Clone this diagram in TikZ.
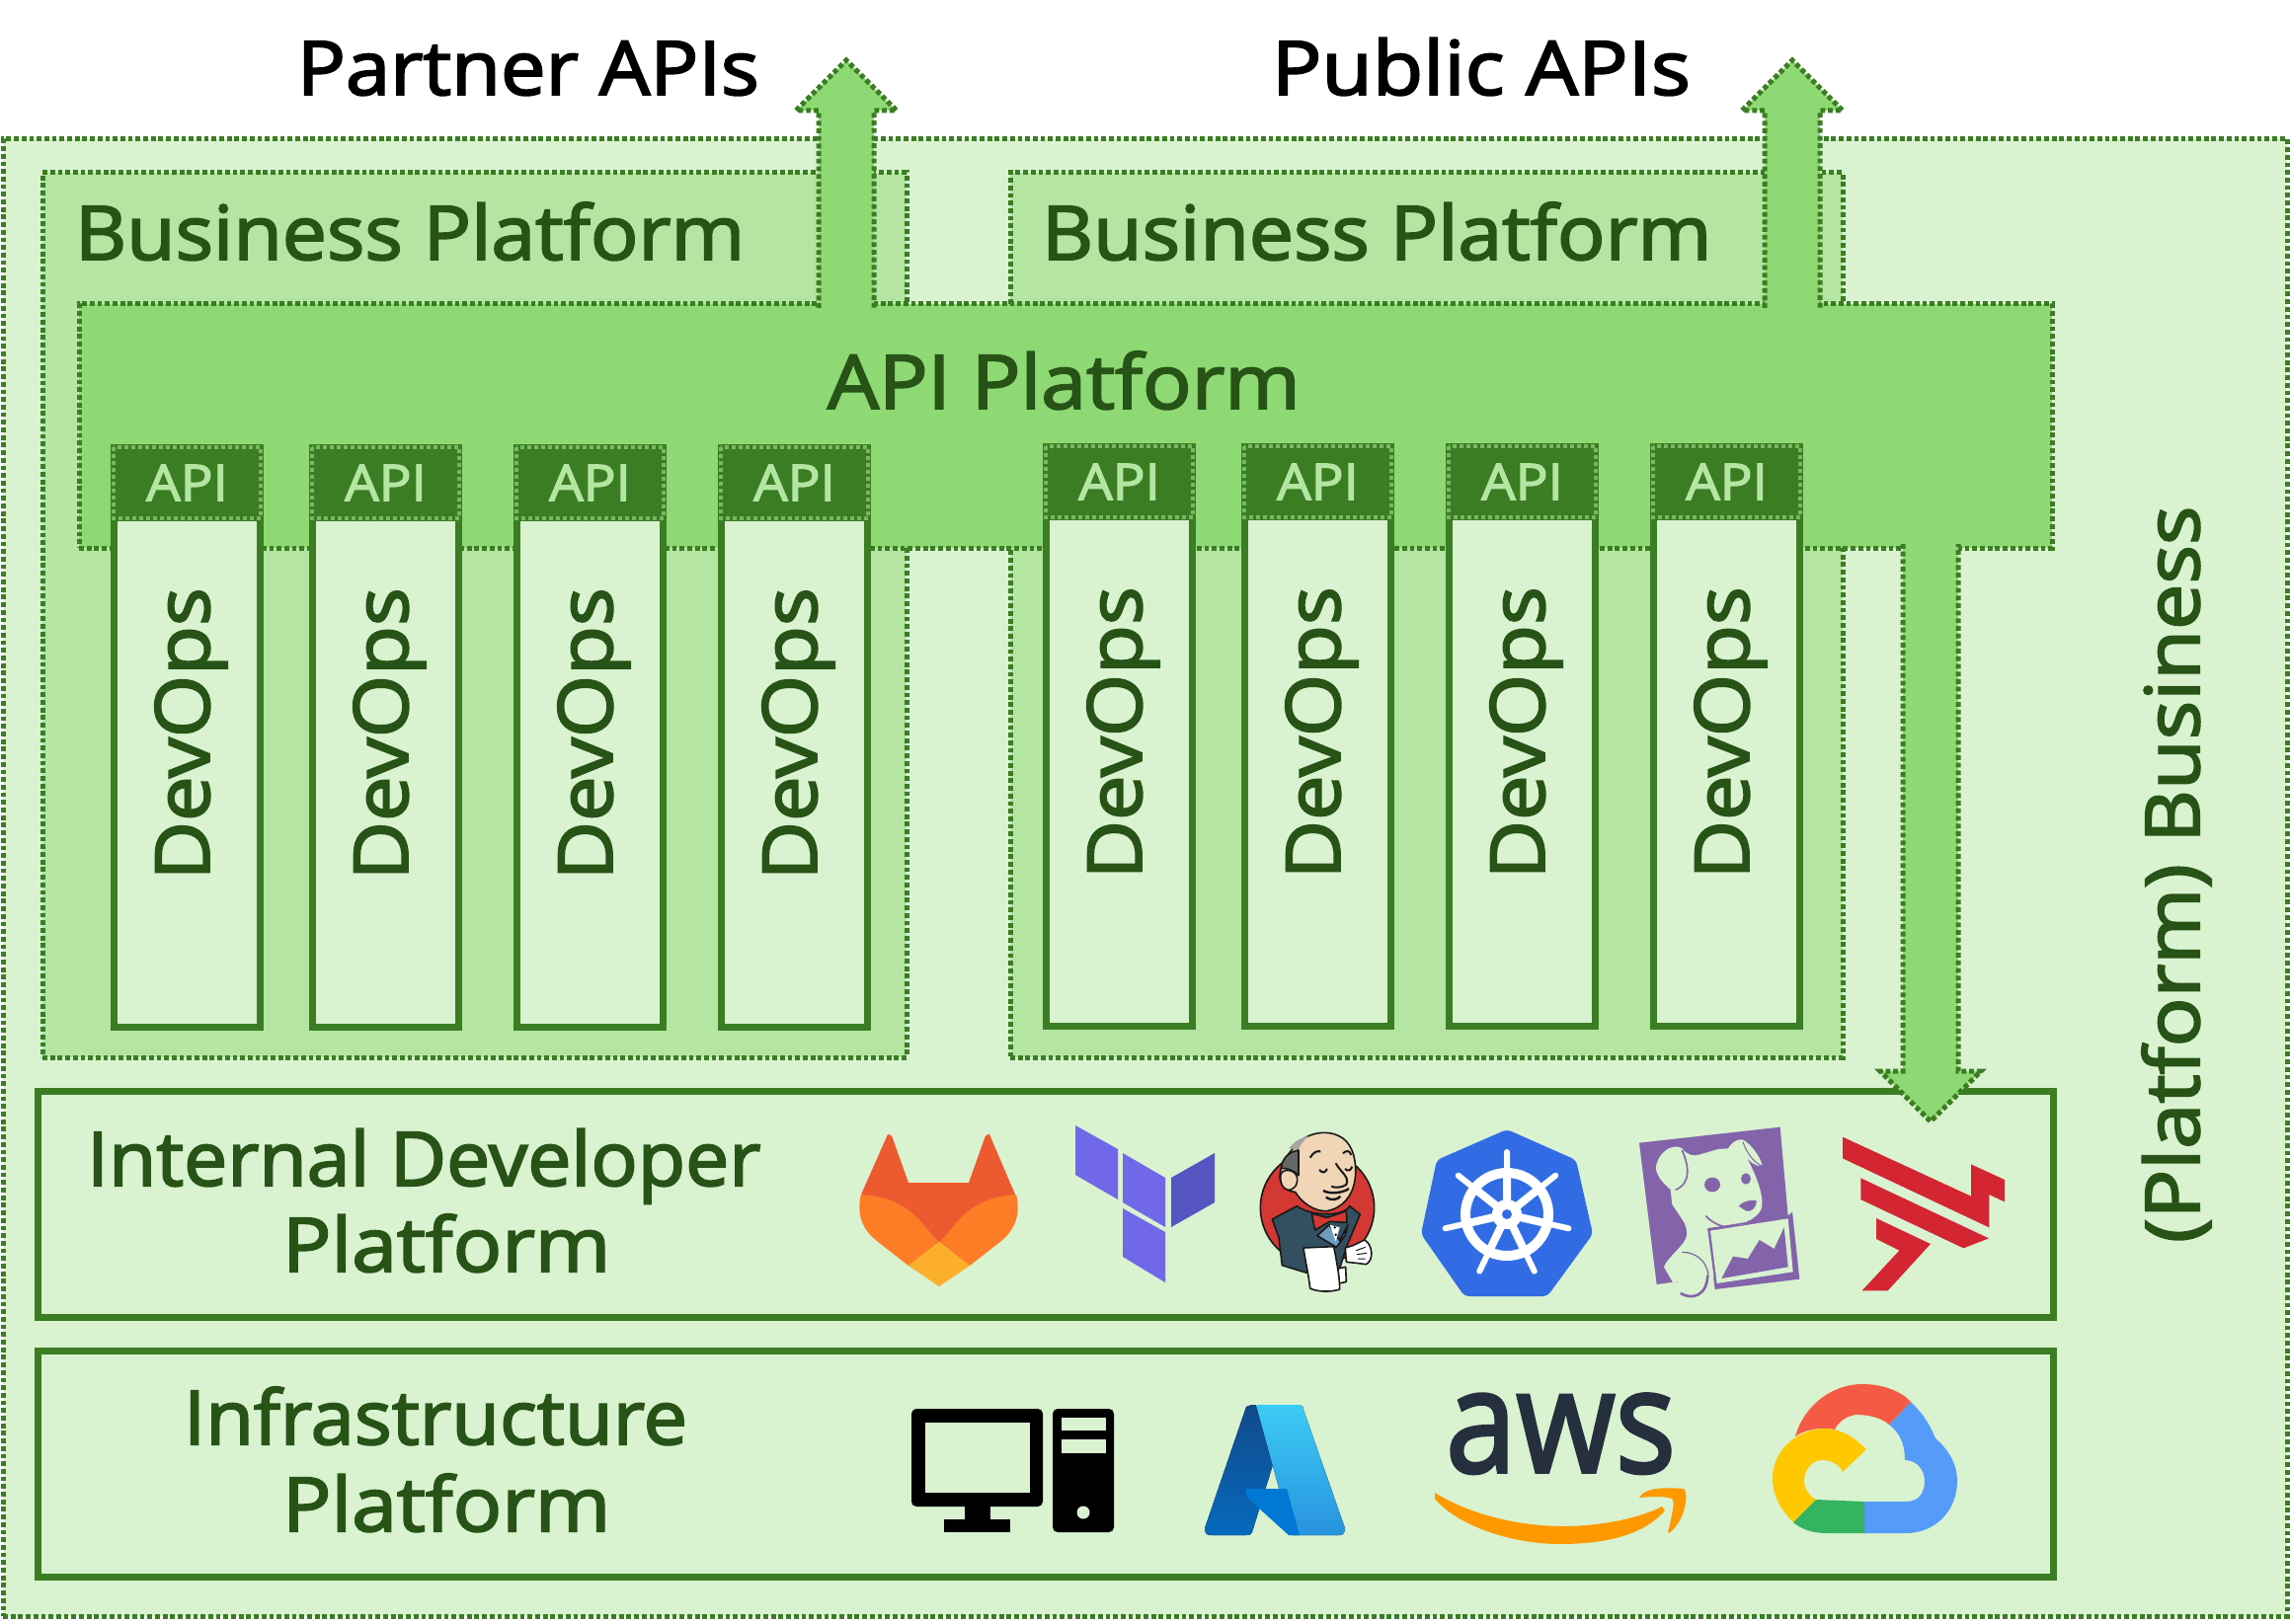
\documentclass[tikz,border=0pt]{standalone}
\usepackage{fontspec}
\usepackage{graphicx}
\setmainfont{Open Sans}[FakeStretch=1.07, BoldFont={Open Sans}, BoldFeatures={FakeBold=2.6}]
\usetikzlibrary{positioning}
\definecolor{dpLight}{HTML}{D9F2D0}
\definecolor{dpMid}{HTML}{B4E5A2}
\definecolor{dpApi}{HTML}{8ED973}
\definecolor{dpLine}{HTML}{3B7D23}
\definecolor{dpText}{HTML}{275317}
\definecolor{dpDots}{HTML}{78B860}
\definecolor{glRed}{HTML}{ED5A2F}
\definecolor{glOrange}{HTML}{FC7D26}
\definecolor{glYellow}{HTML}{FCAF2A}
\definecolor{tfLight}{HTML}{7068E8}
\definecolor{tfDark}{HTML}{5555C2}
\definecolor{jkRed}{HTML}{D33833}
\definecolor{jkSkin}{HTML}{F0D6B7}
\definecolor{jkCoat}{HTML}{335061}
\definecolor{jkBlue}{HTML}{6D9DBD}
\definecolor{k8Blue}{HTML}{326CE5}
\definecolor{ddPurple}{HTML}{8364AB}
\definecolor{trRed}{HTML}{D32632}
\definecolor{azDeep}{HTML}{114A8B}
\definecolor{azMid}{HTML}{0669BC}
\definecolor{azCore}{HTML}{0078D4}
\definecolor{azSky}{HTML}{3CCBF4}
\definecolor{azSea}{HTML}{2892DF}
\definecolor{awsNavy}{HTML}{252F3E}
\definecolor{awsOrange}{HTML}{FF9900}
\definecolor{gcRed}{HTML}{F55B44}
\definecolor{gcBlue}{HTML}{559BF9}
\definecolor{gcYellow}{HTML}{FFC800}
\definecolor{gcGreen}{HTML}{34B360}
\newcommand{\devopsBoxWidth}{148pt}
\newcommand{\devopsBoxHeight}{515.5pt}
\newcommand{\apiBoxHeight}{78pt}
\newcommand{\dpSize}[1]{\fontsize{#1}{#1}\selectfont\bfseries}
\newcommand{\dpWide}[2]{\scalebox{#1}[1]{#2}}
\newcommand{\devopsLabel}{\hspace*{8pt}\rotatebox{90}{\hspace*{78pt}DevOps}}
\newcommand{\blockArrow}[3]{%
  \draw [dp arrow] ([xshift=-28pt]#1) -- ([shift={(-28pt,#3)}]#2) --
    ([shift={(-51pt,#3)}]#2) -- (#2) -- ([shift={(51pt,#3)}]#2) --
    ([shift={(28pt,#3)}]#2) -- ([xshift=28pt]#1);}
\tikzset{
  dp base/.style={inner sep=0pt, outer sep=0pt},
  dp dots/.style={draw=dpLine, line width=5pt, dash pattern=on 4.8pt off 2.9pt},
  dp outer/.style={dp base, dp dots, rectangle, anchor=north west, fill=dpLight},
  dp business/.style={dp base, dp dots, rectangle, anchor=north west, fill=dpMid},
  dp platform/.style={dp base, dp dots, rectangle, anchor=north west, fill=dpApi},
  dp arrow/.style={dp dots, fill=dpApi},
  dp devops/.style={dp base, draw=dpLine, line width=7pt, rectangle, fill=dpLight,
    text=dpText, minimum width=\devopsBoxWidth, minimum height=\devopsBoxHeight,
    font=\dpSize{76}},
  dp api/.style={dp base, rectangle, fill=dpLine, text=dpMid,
    minimum width=155pt, minimum height=\apiBoxHeight, font=\dpSize{51},
    path picture={
      \draw [draw=dpDots, line width=4pt, dash pattern=on 4pt off 3pt]
        ([shift={(3pt,-3pt)}]path picture bounding box.north west) rectangle
        ([shift={(-3pt,3pt)}]path picture bounding box.south east);
    }},
  dp layer/.style={dp base, draw=dpLine, line width=7pt, rectangle, anchor=north west,
    fill=dpLight},
  dp title/.style={dp base, text=dpText, font=\dpSize{76}, anchor=base west},
  dp caption/.style={dp base, text=black, font=\dpSize{76}, anchor=base west},
  jk line/.style={draw=black!90, line width=1.6pt, line join=round},
}
\begin{document}
\begin{tikzpicture}[x=1pt, y=-1pt]
\useasboundingbox (0,0) rectangle (2319,1645);
\node (outer) [dp outer, minimum width=2313pt, minimum height=1496pt] at (3,141) {};
\node (businessA) [dp business, minimum width=875pt, minimum height=896pt] at (43,175) {};
\node (businessB) [dp business, minimum width=843pt, minimum height=896pt] at (1023,175) {};
\node (apiPlatform) [dp platform, minimum width=1998pt, minimum height=247pt] at (80,308) {};

\node (partnerLabel) [dp caption] at (301,96) {Partner APIs};
\node (publicLabel)  [dp caption] at (1288,96) {\dpWide{1.03}{Public APIs}};
\node (businessLabelA) [dp title] at (76,263) {\dpWide{0.99}{Business Platform}};
\node (businessLabelB) [dp title] at (1055,263) {\dpWide{0.99}{Business Platform}};
\node (platformLabel) [dp title] at (838,414) {\dpWide{1.012}{API Platform}};

\coordinate (partnerTip) at (857,61);
\coordinate (publicTip) at (1815,61);
\coordinate (internalTip) at (1955,1136);
\coordinate (partnerBase) at ([yshift=-4pt]partnerTip |- apiPlatform.north);
\coordinate (publicBase) at ([yshift=-4pt]publicTip |- apiPlatform.north);
\coordinate (internalBase) at ([yshift=4pt]internalTip |- apiPlatform.south);

\node (internal) [dp layer, minimum width=2041pt, minimum height=229pt] at (38,1105) {};
\node (infra) [dp layer, minimum width=2041pt, minimum height=229pt] at (38,1368) {};
\node (internalLabelA) [dp title] at (88,1201) {\dpWide{0.968}{Internal Developer}};
\node (internalLabelB) [dp title] at (286,1288) {\dpWide{1.01}{Platform}};
\node (infraLabelA) [dp title] at (186,1463) {\dpWide{0.977}{Infrastructure}};
\node (infraLabelB) [dp title] at (286,1551) {\dpWide{1.01}{Platform}};
\node (businessSide) [dp title, rotate=90] at (2227,1259) {\dpWide{1.018}{(Platform) Business}};

\blockArrow{partnerBase}{partnerTip}{-51pt}
\blockArrow{publicBase}{publicTip}{-51pt}
\blockArrow{internalBase}{internalTip}{51pt}

\node (devopsA) [dp devops, anchor=north west] at (115.5,524.5) {\devopsLabel};
\node (devopsB) [dp devops, right=53pt of devopsA] {\devopsLabel};
\node (devopsC) [dp devops, right=59pt of devopsB] {\devopsLabel};
\node (devopsD) [dp devops, right=59pt of devopsC] {\devopsLabel};
\node (devopsE) [dp devops, anchor=north west] at (1059.5,523.5) {\devopsLabel};
\node (devopsF) [dp devops, right=53pt of devopsE] {\devopsLabel};
\node (devopsG) [dp devops, right=59pt of devopsF] {\devopsLabel};
\node (devopsH) [dp devops, right=59pt of devopsG] {\devopsLabel};
\node (apiA) [dp api, above=-3.5pt of devopsA] {API};
\node (apiB) [dp api, above=-3.5pt of devopsB] {API};
\node (apiC) [dp api, above=-3.5pt of devopsC] {API};
\node (apiD) [dp api, above=-3.5pt of devopsD] {API};
\node (apiE) [dp api, above=-3.5pt of devopsE] {API};
\node (apiF) [dp api, above=-3.5pt of devopsF] {API};
\node (apiG) [dp api, above=-3.5pt of devopsG] {API};
\node (apiH) [dp api, above=-3.5pt of devopsH] {API};

% gitlab
\fill [glRed] (899,1149) .. controls (903,1149) and (904,1152) .. (905,1156) -- (920,1198) -- (981,1198) -- (996,1156)
  .. controls (997,1152) and (998,1149) .. (1002,1149) -- (1028,1210) -- (951,1262) -- (872,1210) -- cycle;
\fill [glOrange] (872,1210) .. controls (868,1225) and (870,1243) .. (888,1257) -- (920,1282) -- (951,1258)
  .. controls (935,1245) and (925,1213) .. (872,1210) -- cycle;
\fill [glOrange] (1029,1210) .. controls (1033,1225) and (1031,1243) .. (1014,1257) -- (982,1282) -- (951,1258)
  .. controls (967,1245) and (977,1213) .. (1029,1210) -- cycle;
\fill [glYellow] (951,1258) -- (982,1282) -- (951,1303) -- (920,1282) -- cycle;
% terraform
\fill [tfLight] (1089,1140) -- (1132,1164) -- (1132,1215) -- (1089,1190) -- cycle;
\fill [tfLight] (1137,1168) -- (1180,1193) -- (1180,1243) -- (1137,1218) -- cycle;
\fill [tfDark] (1186,1193) -- (1230,1168) -- (1230,1218) -- (1186,1243) -- cycle;
\fill [tfLight] (1137,1224) -- (1180,1248) -- (1180,1299) -- (1137,1273) -- cycle;
% jenkins
\begin{scope}[shift={(1200,1120)}, scale=1/3]
\draw [jk line, fill=jkRed] (402,310) circle (173);
\draw [jk line, fill=jkCoat] (265,345) -- (340,305) .. controls (380,335) and (480,340) .. (500,305) -- (532,330)
  -- (490,430) -- (450,560) -- (380,510) -- (360,505) -- (295,485) -- (285,400) -- cycle;
\draw [jk line, fill=jkBlue] (402,395) -- (438,362) -- (470,410) -- (495,362) -- (486,395) -- (460,430) -- cycle;
\fill [white] (440,362) -- (470,370) -- (458,412) -- cycle;
\draw [jk line, fill=jkSkin] (345,112) .. controls (380,78) and (450,68) .. (490,108)
  .. controls (520,140) and (522,200) .. (515,232) .. controls (508,272) and (480,312) .. (430,320)
  .. controls (392,322) and (352,292) .. (335,262) .. controls (318,262) and (288,250) .. (288,215)
  .. controls (288,190) and (305,150) .. (345,112) -- cycle;
\draw [jk line, fill=black!60] (292,190) .. controls (295,160) and (315,140) .. (345,135) -- (345,212)
  .. controls (330,195) and (310,190) .. (292,190) -- cycle;
\fill [black!35] (315,130) .. controls (330,110) and (355,95) .. (376,92) .. controls (360,105) and (350,120) .. (345,132) -- cycle;
\draw [jk line, fill=jkSkin] (290,215) .. controls (290,190) and (330,190) .. (340,215)
  .. controls (345,240) and (330,260) .. (310,255) .. controls (295,250) and (290,235) .. (290,215) -- cycle;
\draw [jk line, line width=2pt] (380,158) .. controls (390,140) and (405,135) .. (412,140);
\draw [jk line, line width=2pt] (480,145) .. controls (490,135) and (500,135) .. (505,150);
\draw [jk line, line width=2pt] (408,195) .. controls (418,205) and (425,205) .. (432,192);
\draw [jk line, line width=2pt] (486,192) .. controls (495,200) and (503,198) .. (508,185);
\draw [jk line, line width=2pt] (458,175) .. controls (475,205) and (500,215) .. (490,240) .. controls (475,250) and (455,250) .. (445,245);
\draw [jk line, line width=2.4pt] (420,258) .. controls (440,270) and (480,265) .. (498,252);
\draw [jk line, line width=2.4pt] (428,278) .. controls (445,290) and (465,285) .. (472,275);
\draw [jk line, fill=jkRed] (385,328) -- (432,340) -- (490,320) -- (492,355) -- (440,352) -- (395,378) -- cycle;
\fill [black] (455,370) circle (4);
\fill [black] (458,392) circle (4);
\draw [jk line, fill=white] (465,495) -- (488,490) -- (490,535) -- (468,540) -- cycle;
\draw [jk line, fill=white] (360,432) -- (452,428) .. controls (460,470) and (470,520) .. (470,558)
  .. controls (440,568) and (400,565) .. (380,555) .. controls (375,510) and (365,470) .. (360,432) -- cycle;
\draw [jk line, fill=white] (487,432) -- (510,425) -- (545,408) .. controls (570,420) and (575,470) .. (550,482)
  -- (520,478) -- (490,475) -- cycle;
\draw [jk line, line width=1pt] (520,440) -- (548,430) (522,452) -- (552,448) (525,465) -- (548,465);
\end{scope}
% kubernetes
\fill [k8Blue, rounded corners=5pt] (1526,1144) -- (1596,1175) -- (1613,1250) -- (1567,1313) -- (1483,1313)
  -- (1439,1250) -- (1455,1175) -- cycle;
\begin{scope}[shift={(1526,1230)}, y=1pt]
\draw [white, line width=10pt] (0,0) circle (42);
\draw [white, line width=8pt] (0,0) -- (90:45) (0,0) -- (38.6:45) (0,0) -- (-12.9:45)
  (0,0) -- (-64.3:45) (0,0) -- (-115.7:45) (0,0) -- (-167.1:45) (0,0) -- (141.4:45);
\draw [white, line width=6pt, line cap=round] (0,0) -- (90:63) (0,0) -- (38.6:63) (0,0) -- (-12.9:64)
  (0,0) -- (-64.3:64) (0,0) -- (-115.7:64) (0,0) -- (-167.1:64) (0,0) -- (141.4:63);
\fill [white] (0,0) circle (15);
\fill [k8Blue] (0,0) circle (5);
\end{scope}
% datadog
\begin{scope}[shift={(1640,1120)}, scale=1/3]
\fill [ddPurple] (60,113) -- (488,65) -- (512,335) -- (525,323) -- (547,527) -- (290,558) -- (285,520) -- (113,543) -- cycle;
\fill [dpLight] (112,180) .. controls (125,130) and (170,115) .. (190,130) .. controls (205,150) and (225,155) .. (245,148)
  -- (300,132) -- (330,130) .. controls (345,105) and (370,95) .. (385,110) .. controls (405,125) and (430,160) .. (433,180)
  .. controls (420,190) and (395,170) .. (385,155) .. controls (410,200) and (440,270) .. (432,310)
  .. controls (425,335) and (395,345) .. (385,360) -- (270,372) -- (287,522) -- (162,537) -- (135,490)
  .. controls (145,460) and (205,420) .. (205,390) .. controls (205,370) and (195,350) .. (190,345) -- (160,300) -- (155,255)
  .. controls (125,230) and (105,200) .. (112,180) -- cycle;
\fill [ddPurple] (282,240) ellipse (24 and 22);
\fill [ddPurple] (384,222) ellipse (15 and 17);
\fill [ddPurple] (362,305) .. controls (380,285) and (415,285) .. (417,290) .. controls (415,310) and (400,325) .. (385,320) -- cycle;
\draw [ddPurple, line width=1.6pt] (262,335) .. controls (290,365) and (350,390) .. (395,350);
\draw [ddPurple, line width=1.6pt] (190,135) .. controls (210,180) and (220,235) .. (170,256);
\draw [ddPurple, line width=1pt] (375,110) .. controls (385,140) and (405,170) .. (430,182);
\draw [ddPurple, line width=1.2pt] (190,445) .. controls (230,445) and (265,470) .. (270,515);
\draw [ddPurple, line width=2.6pt] (185,570) .. controls (220,590) and (265,580) .. (268,515);
\draw [ddPurple, line width=1.6pt] (270,375) -- (515,335) -- (533,507) -- (293,545) -- cycle;
\fill [dpLight] (276,380) -- (512,343) -- (527,505) -- (296,540) -- cycle;
\fill [ddPurple] (310,525) -- (345,458) -- (390,465) -- (425,408) -- (470,435) -- (500,370) -- (512,490) -- cycle;
\end{scope}
% red logo
\begin{scope}[shift={(1640,1120)}, scale=1/3]
\fill [trRed] (678,95) -- (1068,275) -- (1068,178) -- (1170,225) -- (1170,292) -- (1123,270) -- (1123,370) -- (678,160) -- cycle;
\fill [trRed] (733,220) -- (1122,403) -- (1045,433) -- (733,285) -- cycle;
\fill [trRed] (780,342) -- (945,420) -- (815,562) -- (737,562) -- (850,440) -- (780,405) -- cycle;
\end{scope}
% computer
\fill [black, rounded corners=5pt] (923,1427) rectangle (1056,1526);
\fill [dpLight] (937,1441) rectangle (1043,1512);
\fill [black] (977,1524) rectangle (1003,1541);
\fill [black] (956,1539) rectangle (1023,1552);
\fill [black, rounded corners=5pt] (1066,1427) rectangle (1128,1552);
\fill [dpLight] (1075,1436) rectangle (1120,1449);
\fill [dpLight] (1075,1458) rectangle (1120,1472);
\fill [dpLight] (1097,1532) circle (6.5);
% azure
\fill [top color=azDeep, bottom color=azMid] (1262,1425) .. controls (1265,1423) and (1268,1423) .. (1272,1423)
  -- (1291,1477) -- (1268,1552) .. controls (1267,1555) and (1265,1555) .. (1262,1555) -- (1226,1555)
  .. controls (1221,1555) and (1220,1552) .. (1220,1548) -- cycle;
\fill [top color=azSky, bottom color=azSea] (1272,1423) -- (1316,1423) .. controls (1319,1423) and (1320,1425) .. (1320,1428)
  -- (1362,1548) .. controls (1362,1553) and (1360,1555) .. (1356,1555) -- (1308,1555) -- cycle;
\fill [azCore] (1261,1508) -- (1303,1508) -- (1316,1555) -- (1305,1555) -- (1263,1517) -- cycle;
% aws
\node (awsLabel) [dp base, text=awsNavy, anchor=north west, font=\bfseries] at (1464,1412) {\resizebox{233pt}{79pt}{aws}};
\fill [awsOrange] (1453,1512) .. controls (1490,1535) and (1540,1546) .. (1583,1546) .. controls (1620,1546) and (1660,1538) .. (1683,1526)
  -- (1686,1530) .. controls (1665,1555) and (1625,1564) .. (1580,1564) .. controls (1530,1564) and (1475,1545) .. (1453,1518) -- cycle;
\fill [awsOrange] (1660,1517) .. controls (1665,1508) and (1680,1506) .. (1705,1508) .. controls (1710,1510) and (1708,1540) .. (1690,1553)
  -- (1689,1552) .. controls (1693,1535) and (1697,1520) .. (1693,1518) .. controls (1685,1515) and (1672,1516) .. (1660,1517) -- cycle;
% google cloud
\fill [gcBlue] (1935,1420) .. controls (1950,1435) and (1955,1445) .. (1960,1457) .. controls (1975,1470) and (1982,1485) .. (1982,1500)
  .. controls (1982,1530) and (1960,1553) .. (1930,1553) -- (1888,1553) -- (1888,1521) -- (1930,1521)
  .. controls (1945,1521) and (1949,1510) .. (1949,1500) .. controls (1949,1490) and (1942,1479) .. (1929,1479)
  .. controls (1929,1460) and (1922,1450) .. (1913,1443) -- cycle;
\fill [gcRed] (1818,1455) .. controls (1827,1423) and (1856,1402) .. (1886,1402) .. controls (1908,1402) and (1926,1410) .. (1935,1420)
  -- (1913,1443) .. controls (1904,1435) and (1890,1433) .. (1879,1433) .. controls (1867,1435) and (1860,1443) .. (1858,1448)
  .. controls (1845,1445) and (1827,1448) .. (1818,1455) -- cycle;
\fill [gcYellow] (1816,1542) .. controls (1801,1527) and (1795,1513) .. (1795,1497) .. controls (1795,1470) and (1819,1447) .. (1849,1447)
  .. controls (1867,1448) and (1880,1458) .. (1890,1468) -- (1866,1491) .. controls (1864,1485) and (1856,1479) .. (1845,1479)
  .. controls (1834,1479) and (1827,1490) .. (1827,1500) .. controls (1827,1508) and (1832,1515) .. (1839,1519) -- cycle;
\fill [gcGreen] (1839,1519) -- (1888,1521) -- (1888,1553) -- (1849,1553) .. controls (1834,1553) and (1823,1548) .. (1816,1542) -- cycle;
\end{tikzpicture}
\end{document}
